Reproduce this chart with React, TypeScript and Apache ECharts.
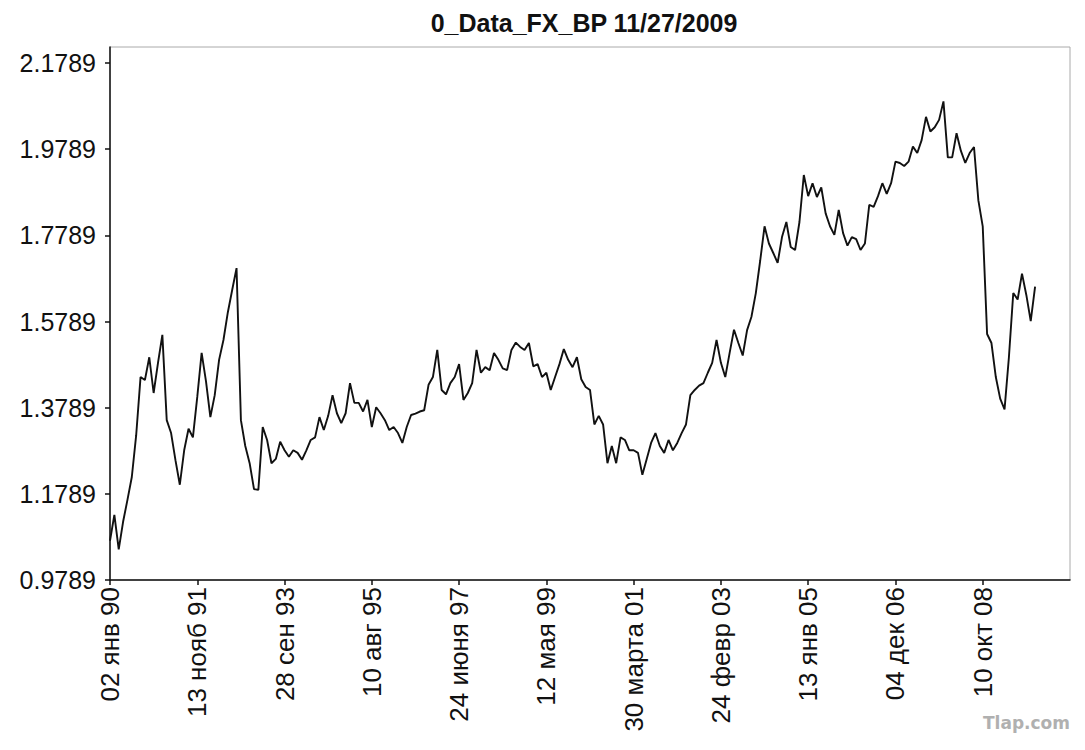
import React, { useEffect, useRef } from "react";
import * as echarts from "echarts";

const chartTitle = "0_Data_FX_BP 11/27/2009";
const watermark = "Tlap.com";

// x-axis tick labels, one every 20 samples
const tickLabels = [
  "02 янв 90", "13 нояб 91", "28 сен 93", "10 авг 95", "24 июня 97", "12 мая 99",
  "30 марта 01", "24 февр 03", "13 янв 05", "04 дек 06", "10 окт 08",
];
const samplesPerLabel = 20;

const yTicks = [0.9789, 1.1789, 1.3789, 1.5789, 1.7789, 1.9789, 2.1789];

// rate readings, 20 samples per label period
const rate1990 = [1.07, 1.13, 1.05, 1.114, 1.165, 1.218, 1.315, 1.45, 1.443, 1.496, 1.413, 1.483, 1.548, 1.35, 1.32, 1.257, 1.2, 1.28, 1.33, 1.31];
const rate1991 = [1.404, 1.506, 1.44, 1.357, 1.408, 1.49, 1.536, 1.6, 1.652, 1.703, 1.35, 1.29, 1.25, 1.19, 1.188, 1.334, 1.304, 1.25, 1.26, 1.3];
const rate1993 = [1.28, 1.265, 1.28, 1.274, 1.258, 1.28, 1.304, 1.31, 1.357, 1.327, 1.36, 1.408, 1.366, 1.343, 1.366, 1.436, 1.39, 1.39, 1.37, 1.397];
const rate1995 = [1.334, 1.38, 1.366, 1.35, 1.327, 1.334, 1.32, 1.297, 1.334, 1.362, 1.365, 1.37, 1.373, 1.432, 1.45, 1.513, 1.42, 1.41, 1.436, 1.45];
const rate1997 = [1.48, 1.397, 1.413, 1.436, 1.513, 1.46, 1.473, 1.466, 1.506, 1.49, 1.47, 1.466, 1.513, 1.53, 1.52, 1.513, 1.529, 1.475, 1.48, 1.45];
const rate1999 = [1.46, 1.42, 1.45, 1.48, 1.515, 1.49, 1.473, 1.496, 1.445, 1.427, 1.42, 1.34, 1.36, 1.34, 1.25, 1.29, 1.25, 1.31, 1.304, 1.28];
const rate2001 = [1.28, 1.274, 1.223, 1.26, 1.297, 1.32, 1.29, 1.274, 1.304, 1.28, 1.297, 1.32, 1.34, 1.408, 1.42, 1.43, 1.436, 1.46, 1.483, 1.536];
const rate2003 = [1.483, 1.45, 1.506, 1.56, 1.529, 1.5, 1.559, 1.59, 1.645, 1.72, 1.8, 1.76, 1.738, 1.715, 1.775, 1.81, 1.752, 1.745, 1.81, 1.919];
const rate2005 = [1.87, 1.9, 1.868, 1.89, 1.83, 1.8, 1.78, 1.838, 1.784, 1.755, 1.775, 1.77, 1.745, 1.76, 1.85, 1.845, 1.87, 1.9, 1.875, 1.9];
const rate2006 = [1.95, 1.947, 1.94, 1.95, 1.985, 1.97, 2.0, 2.054, 2.02, 2.03, 2.047, 2.09, 1.96, 1.96, 2.016, 1.975, 1.947, 1.97, 1.984, 1.86];
const rate2008 = [1.8, 1.55, 1.529, 1.45, 1.4, 1.375, 1.496, 1.645, 1.63, 1.69, 1.64, 1.58, 1.66];

export default function App() {
  const ref = useRef<HTMLDivElement>(null);
  useEffect(() => {
    if (!ref.current) return;
    const chart = echarts.init(ref.current, null, { renderer: "svg" });
    const rates = [
      ...rate1990, ...rate1991, ...rate1993, ...rate1995, ...rate1997, ...rate1999,
      ...rate2001, ...rate2003, ...rate2005, ...rate2006, ...rate2008,
    ];
    const data = rates.map((v, i) => [i, v]);
    const xTickValues = tickLabels.map((_, k) => k * samplesPerLabel);
    chart.setOption({
      animation: false,
      backgroundColor: "#ffffff",
      title: {
        text: chartTitle,
        left: 579,
        textAlign: "center",
        top: 5,
        textStyle: { fontFamily: "Liberation Sans", fontWeight: "bold", fontSize: 25, color: "#111" },
      },
      graphic: [
        {
          type: "text",
          left: 983,
          top: 714,
          style: { text: watermark, fontFamily: "DejaVu Sans", fontWeight: "bold", fontSize: 17, fill: "#b0b0b0" },
        },
      ],
      grid: {
        left: 110,
        right: 15,
        top: 47,
        bottom: 170,
        show: true,
        borderColor: "#aaaaaa",
        borderWidth: 1,
        backgroundColor: "transparent",
      },
      xAxis: {
        type: "value",
        min: 0,
        max: samplesPerLabel * tickLabels.length,
        interval: samplesPerLabel,
        splitLine: { show: false },
        axisLine: { lineStyle: { color: "#111", width: 1.5 } },
        axisTick: { customValues: xTickValues, length: 5, lineStyle: { color: "#111", width: 1.5 } },
        axisLabel: {
          customValues: xTickValues,
          rotate: 90,
          margin: 7,
          fontFamily: "Liberation Sans",
          fontSize: 26,
          color: "#111",
          formatter: (v: number) => tickLabels[Math.round(v / samplesPerLabel)] ?? "",
        },
      },
      yAxis: {
        type: "value",
        min: 0.9789,
        max: 2.2162,
        splitLine: { show: false },
        axisLine: { show: true, lineStyle: { color: "#111", width: 1.5 } },
        axisTick: { show: true, customValues: yTicks, length: 5, lineStyle: { color: "#111", width: 1.5 } },
        axisLabel: {
          customValues: yTicks,
          margin: 14,
          fontFamily: "Liberation Sans",
          fontSize: 25,
          color: "#111",
          formatter: (v: number) => v.toFixed(4),
        },
      },
      series: [
        {
          type: "line",
          data,
          showSymbol: false,
          symbol: "none",
          lineStyle: { color: "#111", width: 1.9 },
        },
      ],
    });
    return () => chart.dispose();
  }, []);
  return <div ref={ref} style={{ position: "fixed", left: 0, top: 0, width: 1085, height: 750 }} />;
}
